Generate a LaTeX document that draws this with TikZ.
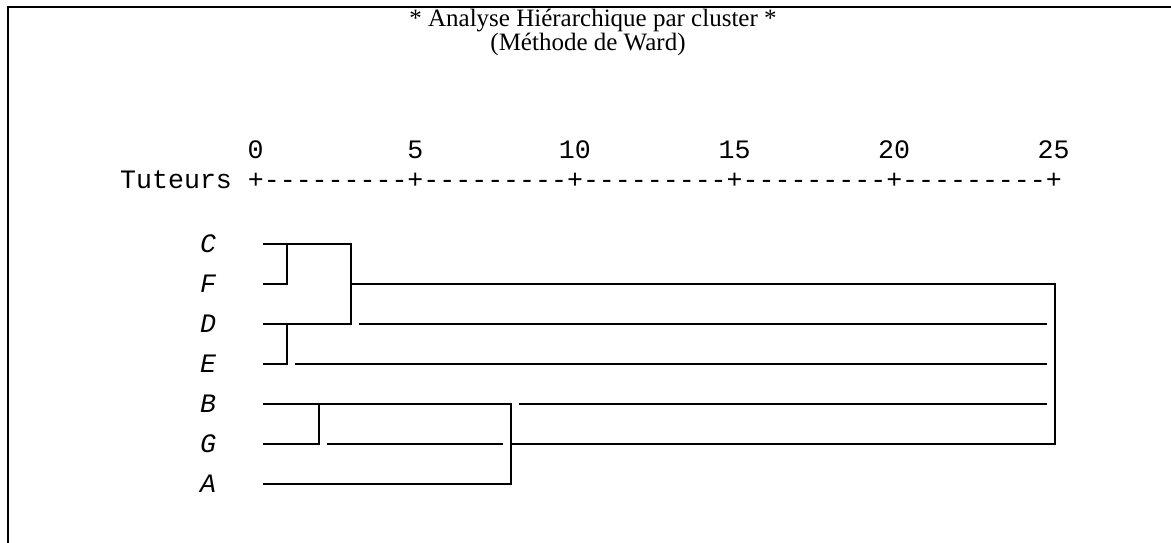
\documentclass[tikz,border=0pt]{standalone}
\usepackage{fontspec}
\setmainfont{Liberation Serif}
\setmonofont{Liberation Mono}
\usepackage{tikz}
\newcommand{\tuteur}[2]{\node[lbl] (t#1) at (208,#2) {#1}; \coordinate (l#1) at (263,#2);}

\begin{document}
\begin{tikzpicture}[x=1pt,y=-1pt,
    lbl/.style={font=\fontsize{26.6}{30}\selectfont\ttfamily\itshape,inner sep=0pt},
    num/.style={font=\fontsize{26.6}{30}\selectfont\ttfamily,inner sep=0pt,anchor=base},
    titre/.style={font=\fontsize{25}{30}\selectfont,inner sep=0pt,anchor=base},
    branche/.style={line width=2pt}]
    \useasboundingbox (0,0) rectangle (1171,543);

    % cadre
    \draw[line width=2.6pt] (8,543) -- (8,7) -- (1171,7);

    % titre
    \node[titre] (titre1) at (593,27) {* Analyse Hiérarchique par cluster *};
    \node[titre] (titre2) at (588,51) {(Méthode de Ward)};

    % echelle
    \foreach \n in {0,5,...,25}
      \node[num] (n\n) at (255.7+31.92*\n,158) {\n};
    \node[num,anchor=base west] (axe) at (120,188) {Tuteurs +---------+---------+---------+---------+---------+};

    % tuteurs
    \tuteur{C}{244}
    \tuteur{F}{284}
    \tuteur{D}{324}
    \tuteur{E}{364}
    \tuteur{B}{404}
    \tuteur{G}{444}
    \tuteur{A}{484}

    % niveaux de fusion
    \coordinate (m1) at (287,0);
    \coordinate (m2) at (319,0);
    \coordinate (m3) at (351,0);
    \coordinate (m4) at (511,0);
    \coordinate (m5) at (1055,0);
    \coordinate (sD) at (359,324);
    \coordinate (sE) at (295,364);
    \coordinate (sB) at (519,404);
    \coordinate (sG) at (327,444);
    \coordinate (fin) at (1047,0);

    \draw[branche] (lF) -| (m1 |- lC);
    \draw[branche] (lC) -| (m3 |- lD) -- (lD);
    \draw[branche] (lE) -| (m1 |- lD);
    \draw[branche] (lG) -| (m2 |- lB);
    \draw[branche] (lB) -| (m4 |- lA) -- (lA);
    \draw[branche] (m3 |- lF) -| (m5 |- lG) -- (m4 |- lG);
    \draw[branche] (sD) -- (fin |- sD);
    \draw[branche] (sE) -- (fin |- sE);
    \draw[branche] (sB) -- (fin |- sB);
    \draw[branche] (sG) -- (503,444);
  \end{tikzpicture}
\end{document}
